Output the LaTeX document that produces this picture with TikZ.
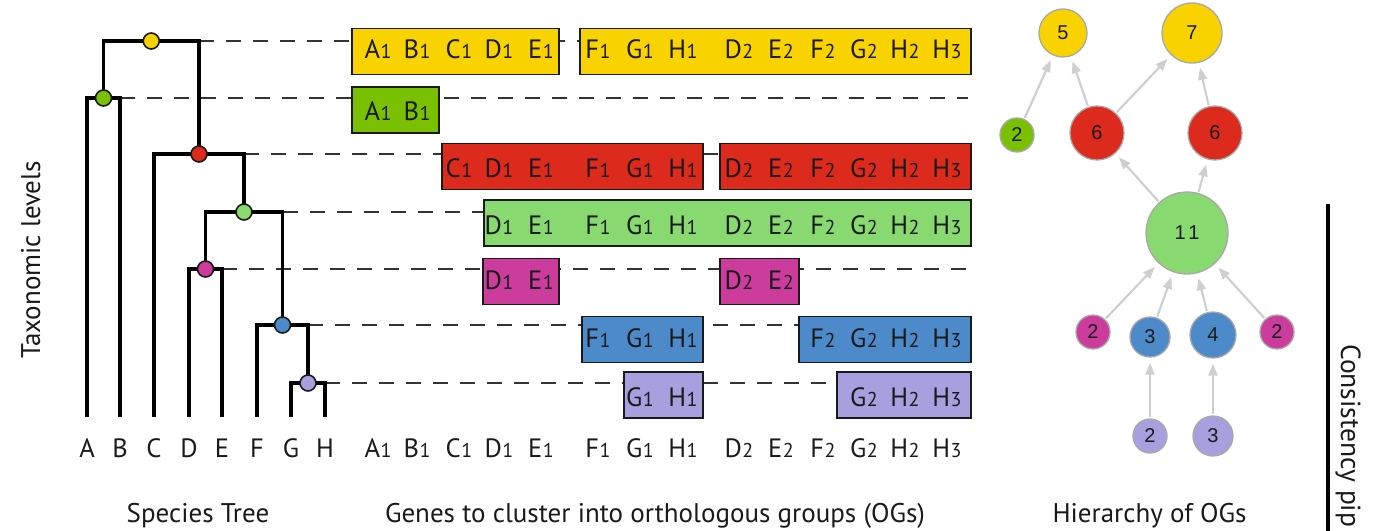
\documentclass[tikz,border=0pt]{standalone}
\usepackage{fontspec}
\setmainfont{PT Sans}
\newfontfamily\numfont{Liberation Sans}
\usetikzlibrary{arrows.meta}

\definecolor{ink}{HTML}{1A1A1A}
\definecolor{dashgray}{HTML}{333333}
\definecolor{ogrim}{HTML}{A8A8A8}
\definecolor{linkgray}{HTML}{CFCFCF}
\definecolor{ogyellow}{HTML}{F9D300}
\definecolor{oglime}{HTML}{78C000}
\definecolor{ogred}{HTML}{DC2A1C}
\definecolor{oggreen}{HTML}{88D970}
\definecolor{ogmag}{HTML}{CC3C9C}
\definecolor{ogblue}{HTML}{4D8ACA}
\definecolor{ogpurple}{HTML}{A89FDE}

% gene name: species letter with a small copy number
\newcommand\gn[2]{#1\kern0.5pt\raisebox{-0.8pt}{\fontsize{20}{20}\selectfont #2}}
% a row of gene labels: baseline y, prefix for names, list of letter/number/x
\newcommand\generow[3]{%
  \foreach \g/\d/\x in {#3} {\node[gene] (#2-\g\d) at (\x,#1) {\gn{\g}{\d}};}}

\begin{document}
\begin{tikzpicture}[x=1pt,y=-1pt,
  branch/.style={draw=black, line width=3.6pt, line join=miter},
  clade/.style={circle, draw=ink, line width=1.6pt, minimum size=16pt, inner sep=0pt},
  level/.style={draw=dashgray, line width=2.6pt, dash pattern=on 15pt off 12pt},
  ogbox/.style={draw=ink, line width=1.8pt, minimum height=46pt, inner sep=0pt},
  gene/.style={anchor=base, inner sep=0pt, text=ink, font=\fontsize{26.5}{26.5}\selectfont},
  title/.style={anchor=base, inner sep=0pt, text=ink, font=\fontsize{27}{27}\selectfont},
  og/.style={circle, draw=ogrim, line width=1.3pt, inner sep=0pt, text=ink,
    font=\numfont\fontsize{20}{20}\selectfont},
  link/.style={draw=linkgray, line width=2.2pt, -{Triangle[length=12pt,width=9pt]},
    shorten >=5pt, shorten <=1pt},
]
\useasboundingbox (0,0) rectangle (1383,530);
\clip (0,0) rectangle (1383,530);

% ---------- species tree: leaves and internal junctions ----------
\foreach \n/\x in {A/87,B/120,C/154,D/189,E/222,F/257,G/291,H/325} {
  \coordinate (f\n) at (\x,417);
  \node[gene] (leaf\n) at (\x,457) {\n};
}
\coordinate (jP) at (308,383);
\coordinate (jB) at (282.5,325);
\coordinate (jM) at (205.5,269);
\coordinate (jG) at (244,212);
\coordinate (jR) at (199,154);
\coordinate (jL) at (103.5,98);
\coordinate (jY) at (151.25,41);

% right-hand corners where each level line starts
\coordinate (kY) at (jY -| jR);
\coordinate (kL) at (jL -| fB);
\coordinate (kR) at (jR -| jG);
\coordinate (kG) at (jG -| jB);
\coordinate (kM) at (jM -| fE);
\coordinate (kB) at (jB -| jP);
\coordinate (kP) at (jP -| fH);
\foreach \r/\y in {Y/41,L/98,R/154,G/212,M/269,B/325,P/383}
  \coordinate (e\r) at (968,\y);

% dashed taxonomic level lines
\foreach \r in {Y,L,R,G,M,B,P}
  \draw[level] (k\r) -- (e\r);

% ---------- orthologous groups per level ----------
\node[ogbox, fill=ogyellow, minimum width=207pt] (bY1) at (455.5,51.5) {};
\node[ogbox, fill=ogyellow, minimum width=391pt] (bY2) at (775.5,51.5) {};
\node[ogbox, fill=oglime,   minimum width=87pt]  (bL1) at (395.5,110) {};
\node[ogbox, fill=ogred,    minimum width=261pt] (bR1) at (572.5,166.5) {};
\node[ogbox, fill=ogred,    minimum width=251pt] (bR2) at (845.5,166.5) {};
\node[ogbox, fill=oggreen,  minimum width=487pt] (bG1) at (727.5,223) {};
\node[ogbox, fill=ogmag,    minimum width=76pt]  (bM1) at (521,281.5) {};
\node[ogbox, fill=ogmag,    minimum width=79pt]  (bM2) at (759.5,281.5) {};
\node[ogbox, fill=ogblue,   minimum width=121pt] (bB1) at (642.5,339.5) {};
\node[ogbox, fill=ogblue,   minimum width=172pt] (bB2) at (885,339.5) {};
\node[ogbox, fill=ogpurple, minimum width=79pt]  (bP1) at (663.5,395) {};
\node[ogbox, fill=ogpurple, minimum width=134pt] (bP2) at (904,395) {};

\generow{58}{gY}{A/1/378,B/1/417,C/1/459,D/1/499,E/1/541,F/1/598,G/1/640,H/1/683,D/2/739,E/2/781,F/2/823,G/2/864,H/2/905,H/3/947}
\generow{120}{gL}{A/1/378,B/1/417}
\generow{177}{gR}{C/1/459,D/1/499,E/1/541,F/1/598,G/1/640,H/1/683,D/2/739,E/2/781,F/2/823,G/2/864,H/2/905,H/3/947}
\generow{234}{gG}{D/1/499,E/1/541,F/1/598,G/1/640,H/1/683,D/2/739,E/2/781,F/2/823,G/2/864,H/2/905,H/3/947}
\generow{289}{gM}{D/1/499,E/1/541,D/2/739,E/2/781}
\generow{347}{gB}{F/1/598,G/1/640,H/1/683,F/2/823,G/2/864,H/2/905,H/3/947}
\generow{406}{gP}{G/1/640,H/1/683,G/2/864,H/2/905,H/3/947}
\generow{457}{gAll}{A/1/378,B/1/417,C/1/459,D/1/499,E/1/541,F/1/598,G/1/640,H/1/683,D/2/739,E/2/781,F/2/823,G/2/864,H/2/905,H/3/947}

% ---------- tree branches and clade markers ----------
\draw[branch] (fA) |- (jL) -| (fB);
\draw[branch] (jL) |- (jY) -| (jR);
\draw[branch] (fC) |- (jR) -| (jG);
\draw[branch] (jM) |- (jG) -| (jB);
\draw[branch] (fD) |- (jM) -| (fE);
\draw[branch] (fF) |- (jB) -| (jP);
\draw[branch] (fG) |- (jP) -| (fH);

\node[clade, fill=ogyellow] (tY) at (jY) {};
\node[clade, fill=oglime]   (tL) at (jL) {};
\node[clade, fill=ogred]    (tR) at (jR) {};
\node[clade, fill=oggreen]  (tG) at (jG) {};
\node[clade, fill=ogmag]    (tM) at (jM) {};
\node[clade, fill=ogblue]   (tB) at (jB) {};
\node[clade, fill=ogpurple] (tP) at (jP) {};

% ---------- hierarchy of OGs ----------
\node[og, fill=ogyellow, minimum size=48pt] (h5)  at (1063,33)  {5};
\node[og, fill=ogyellow, minimum size=60pt] (h7)  at (1192,33)  {7};
\node[og, fill=oglime,   minimum size=34pt] (hL)  at (1017,135) {2};
\node[og, fill=ogred,    minimum size=54pt] (h6a) at (1097,133) {6};
\node[og, fill=ogred,    minimum size=54pt] (h6b) at (1215,133) {6};
\node[og, fill=oggreen,  minimum size=82pt] (h11) at (1187,233) {1\kern2.5pt 1};
\node[og, fill=ogmag,    minimum size=34pt] (hMa) at (1093,332) {2};
\node[og, fill=ogblue,   minimum size=40pt] (hB3) at (1150,337) {3};
\node[og, fill=ogblue,   minimum size=46pt] (hB4) at (1213,335) {4};
\node[og, fill=ogmag,    minimum size=34pt] (hMb) at (1277,332) {2};
\node[og, fill=ogpurple, minimum size=34pt] (hP2) at (1150,436) {2};
\node[og, fill=ogpurple, minimum size=40pt] (hP3) at (1213,436) {3};

\draw[link] (hL)  -- (h5);
\draw[link] (h6a) -- (h5);
\draw[link] (h6a) -- (h7);
\draw[link] (h6b) -- (h7);
\draw[link] (h11) -- (h6a);
\draw[link] (h11) -- (h6b);
\draw[link] (hMa) -- (h11);
\draw[link] (hB3) -- (h11);
\draw[link] (hB4) -- (h11);
\draw[link] (hMb) -- (h11);
\draw[link] (hP2) -- (hB3);
\draw[link] (hP3) -- (hB4);

% ---------- captions ----------
\node[title] (capTree)  at (198,522)    {Species Tree};
\node[title] (capGenes) at (655,522)    {Genes to cluster into orthologous groups (OGs)};
\node[title] (capHier)  at (1149.5,522) {Hierarchy of OGs};
\node[title, rotate=90] (capLevels) at (40,260) {Taxonomic levels};

\coordinate (sepTop) at (1328,204);
\coordinate (sepBot) at (1328,540);
\draw[line width=3.5pt] (sepTop) -- (sepBot);
\node[title, rotate=-90, anchor=base west, font=\fontsize{27.6}{27.6}\selectfont]
  (capPipe) at (1341,344) {Consistency pip};
\end{tikzpicture}
\end{document}
